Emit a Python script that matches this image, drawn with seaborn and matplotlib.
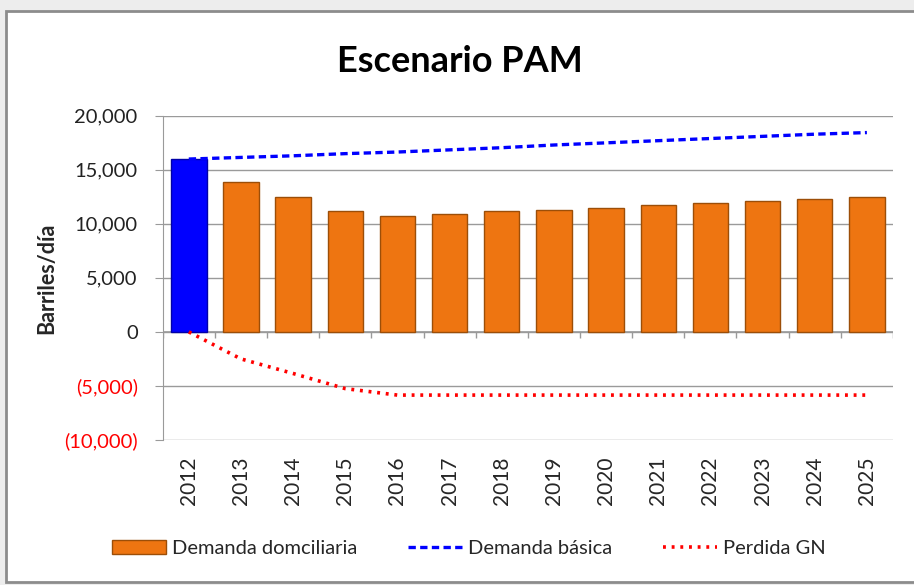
import numpy as np
import pandas as pd
import seaborn as sns
import matplotlib.pyplot as plt
from matplotlib.patches import Rectangle, Patch
from matplotlib.lines import Line2D

# Datos
anios = ['2012', '2013', '2014', '2015', '2016', '2017', '2018',
         '2019', '2020', '2021', '2022', '2023', '2024', '2025']
demanda_domiciliaria = [16000, 13900, 12500, 11200, 10700, 10950, 11150,
                        11300, 11500, 11700, 11950, 12100, 12300, 12500]
demanda_basica = [16000, 16150, 16300, 16500, 16650, 16850, 17050,
                  17300, 17500, 17700, 17900, 18100, 18300, 18450]
perdida_gn = [0, -2500, -3850, -5250, -5850, -5850, -5850,
              -5850, -5850, -5850, -5850, -5850, -5850, -5850]
y_ticks = [-10000, -5000, 0, 5000, 10000, 15000, 20000]

naranja = '#EE7511'
azul = '#0000FF'
rojo = '#FF0000'

sns.set_style('white')
plt.rcParams['font.family'] = ['Lato', 'DejaVu Sans']

df = pd.DataFrame({'anio': anios, 'dom': demanda_domiciliaria,
                   'bas': demanda_basica, 'gn': perdida_gn})
df['pos'] = np.arange(len(df))

fig = plt.figure(figsize=(9.14, 5.85), dpi=100)
fig.patch.set_facecolor('#EDEDED')
marco = Rectangle((6 / 914, 3 / 585), 1.0, 571 / 585,
                  transform=fig.transFigure, facecolor='white',
                  edgecolor='#8C8C8C', linewidth=2, zorder=-10)
fig.add_artist(marco)

ax = fig.add_axes([0.178, 0.248, 0.799, 0.554])
ax.set_facecolor('none')

colores = [azul] + [naranja] * (len(anios) - 1)
sns.barplot(data=df, x='anio', y='dom', hue='anio', palette=colores,
            saturation=1, legend=False, width=0.68, edgecolor='#9C4E08',
            linewidth=1, ax=ax, zorder=3)
ax.patches[0].set_edgecolor('#0000A8')

sns.lineplot(data=df, x='pos', y='bas', color=azul, linewidth=2.4,
             linestyle=(0, (2.2, 1.3)), ax=ax, zorder=4)
sns.lineplot(data=df, x='pos', y='gn', color=rojo, linewidth=2.6,
             linestyle=(0, (0.8, 1.6)), ax=ax, zorder=4)

ax.set_ylim(-10000, 20000)
ax.set_xlim(-0.5, len(anios) - 0.5)
ax.set_yticks(y_ticks)
ax.set_yticklabels([f'({abs(v):,})' if v < 0 else f'{v:,}' for v in y_ticks],
                   fontsize=14.5)
for lbl, v in zip(ax.get_yticklabels(), y_ticks):
    lbl.set_color(rojo if v < 0 else '#222222')

ax.grid(axis='y', color='#9A9A9A', linewidth=1)
ax.set_axisbelow(True)
for s in ['top', 'right', 'bottom']:
    ax.spines[s].set_visible(False)
ax.spines['left'].set_color('#9A9A9A')
ax.tick_params(axis='y', length=6, color='#9A9A9A', left=True, pad=12)

# eje horizontal en cero con marcas entre categorias
ax.axhline(0, color='#9A9A9A', linewidth=1.2, zorder=2)
ax.vlines(np.arange(len(anios) + 1) - 0.5, -600, 0, color='#9A9A9A',
          linewidth=1, zorder=2)
ax.tick_params(axis='x', length=0, pad=12, labelsize=15, rotation=90)
ax.set_xlabel('')
ax.set_ylabel('Barriles/día', fontsize=15.5, fontweight='bold')
ax.yaxis.set_label_coords(-0.145, 0.5)

fig.text(0.503, 0.895, 'Escenario PAM', ha='center', va='center',
         fontsize=26, fontweight='bold', color='black')

handles = [Patch(facecolor=naranja, edgecolor='#9C4E08'),
           Line2D([], [], color=azul, linewidth=2.4, linestyle=(0, (2.2, 1.3))),
           Line2D([], [], color=rojo, linewidth=2.6, linestyle=(0, (0.8, 1.6)))]
fig.legend(handles, ['Demanda domciliaria', 'Demanda básica', 'Perdida GN'],
           loc='center', bbox_to_anchor=(0.513, 0.063), ncol=3, frameon=False,
           fontsize=14.5, handlelength=2.7, handletextpad=0.3,
           columnspacing=2.5)

fig.savefig('out.png', dpi=100, facecolor=fig.get_facecolor())
